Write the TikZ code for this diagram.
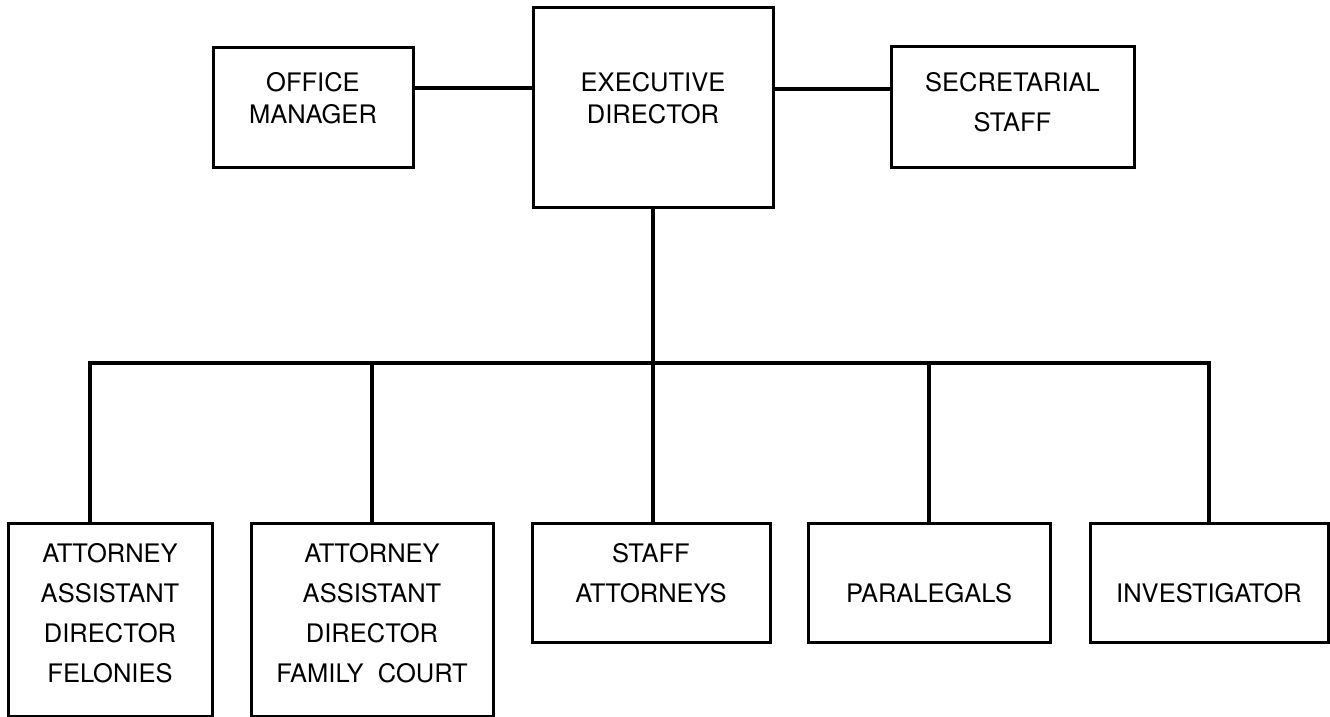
\documentclass[tikz,border=0pt]{standalone}
\usepackage{fontspec}
\setmainfont{TeX Gyre Heros}
\tikzset{
	unit/.style={draw, line width=3pt, inner sep=0pt, outer sep=0pt, anchor=north west},
	title/.style={align=center, anchor=north, inner sep=0pt, font=\fontsize{25.5}{40}\selectfont},
	tight/.style={font=\fontsize{25.5}{32}\selectfont},
	link/.style={line width=3.5pt},
}
\begin{document}
\begin{tikzpicture}[x=1pt,y=-1pt]
\useasboundingbox (0,0) rectangle (1330,717);
% boxes: name/left/top/right/bottom
\foreach \n/\l/\t/\r/\b in {om/213/48/413/167, ed/533/8/773/207, ss/891/47/1134/167,
	af/8/523/212/716, afc/251/523/493/716, sa/532/523/770/642, pl/808/523/1050/642, iv/1090/523/1328/642}
{
	\node[unit, minimum width={\r-\l}, minimum height={\b-\t}] (\n) at (\l,\t) {};
}
% texts
\node[title, tight] (omt) at ([yshift=-24pt]om.north) {OFFICE\\MANAGER};
\node[title, tight] (edt) at ([yshift=-64pt]ed.north) {EXECUTIVE\\DIRECTOR};
\node[title] (sst) at ([yshift=-25pt]ss.north) {SECRETARIAL\\STAFF};
\node[title] (aft) at ([yshift=-20pt]af.north) {ATTORNEY\\ASSISTANT\\DIRECTOR\\FELONIES};
\node[title] (afct) at ([yshift=-20pt]afc.north) {ATTORNEY\\ASSISTANT\\DIRECTOR\\FAMILY\ \ COURT};
\node[title] (sat) at ([yshift=-20pt]sa.north) {STAFF\\ATTORNEYS};
\node[title] (plt) at ([yshift=-60pt]pl.north) {PARALEGALS};
\node[title] (ivt) at ([yshift=-60pt]iv.north) {INVESTIGATOR};
% connectors
\coordinate (bus) at (653,363);
\draw[link] ([yshift=19.5pt]om.east) -- ([yshift=19.5pt]om.east -| ed.west);
\draw[link] ([yshift=18pt]ss.west -| ed.east) -- ([yshift=18pt]ss.west);
\draw[link] (ed.south) -- (ed.south |- sa.north);
\draw[link] ([xshift=-20pt]af.north) |- (iv.north |- bus) -- (iv.north);
\foreach \n in {afc,pl}
{
	\draw[link] (\n.north) -- (\n.north |- bus);
}
\end{tikzpicture}
\end{document}
